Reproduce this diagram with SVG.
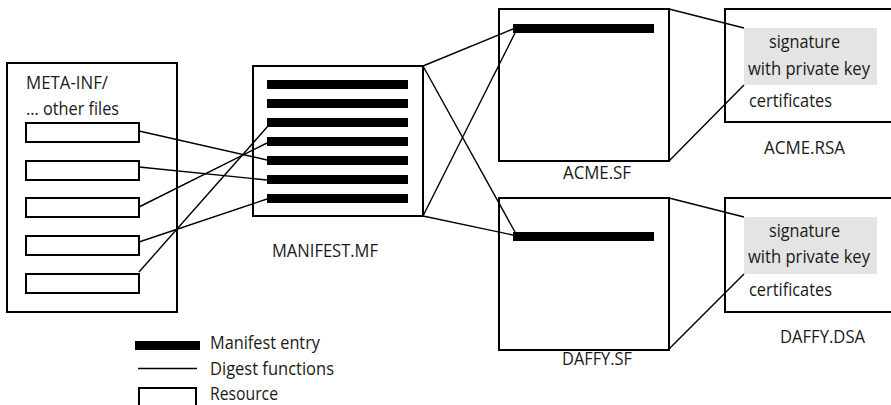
<svg xmlns="http://www.w3.org/2000/svg" width="891" height="405" viewBox="0 0 891 405">
<style>
.box{fill:#fff;stroke:#000;stroke-width:2}
.res{fill:#fff;stroke:#000;stroke-width:2}
.bar{fill:#000}
.lnk{fill:none;stroke:#000;stroke-width:1.4}
.sig{fill:#e4e4e4}
text{font-family:"Open Sans","Noto Sans","Liberation Sans",sans-serif;font-size:18px;fill:#1a1a1a}
</style>
<rect width="891" height="405" fill="#fff"/>
<g id="meta-inf">
<rect class="box" x="7" y="63" width="170" height="249"/>
<text x="26" y="89" textLength="82" lengthAdjust="spacingAndGlyphs">META-INF/</text>
<text x="26" y="115" textLength="93" lengthAdjust="spacingAndGlyphs">... other files</text>
<rect class="res" x="26" y="123" width="113" height="19"/>
<rect class="res" x="26" y="161" width="113" height="19"/>
<rect class="res" x="26" y="198" width="113" height="19"/>
<rect class="res" x="26" y="236" width="113" height="19"/>
<rect class="res" x="26" y="274" width="113" height="19"/>
</g>
<g id="manifest">
<rect class="box" x="253" y="66" width="170" height="150"/>
<rect class="bar" x="267" y="80" width="141" height="9"/>
<rect class="bar" x="267" y="99" width="141" height="9"/>
<rect class="bar" x="267" y="118" width="141" height="9"/>
<rect class="bar" x="267" y="137" width="141" height="9"/>
<rect class="bar" x="267" y="156" width="141" height="9"/>
<rect class="bar" x="267" y="175" width="141" height="9"/>
<rect class="bar" x="267" y="194" width="141" height="9"/>
<text x="272" y="257" textLength="106" lengthAdjust="spacingAndGlyphs">MANIFEST.MF</text>
</g>
<g id="acme-sf">
<rect class="box" x="499" y="9" width="170" height="152"/>
<rect class="bar" x="513" y="24" width="141" height="9"/>
<text x="563" y="179" textLength="68" lengthAdjust="spacingAndGlyphs">ACME.SF</text>
</g>
<g id="daffy-sf">
<rect class="box" x="499" y="198" width="170" height="152"/>
<rect class="bar" x="513" y="232" width="141" height="9"/>
<text x="562" y="365" textLength="70" lengthAdjust="spacingAndGlyphs">DAFFY.SF</text>
</g>
<g id="acme-rsa">
<path class="box" d="M891 9H725V122H891"/>
<rect class="sig" x="744" y="28" width="133" height="57"/>
<text x="769" y="48" textLength="71" lengthAdjust="spacingAndGlyphs">signature</text>
<text x="748" y="75" textLength="122" lengthAdjust="spacingAndGlyphs">with private key</text>
<text x="749" y="107" textLength="83" lengthAdjust="spacingAndGlyphs">certificates</text>
<text x="764" y="154" textLength="81" lengthAdjust="spacingAndGlyphs">ACME.RSA</text>
</g>
<g id="daffy-dsa">
<path class="box" d="M891 198H725V312H891"/>
<rect class="sig" x="744" y="217" width="133" height="57"/>
<text x="769" y="237" textLength="71" lengthAdjust="spacingAndGlyphs">signature</text>
<text x="748" y="263" textLength="122" lengthAdjust="spacingAndGlyphs">with private key</text>
<text x="749" y="296" textLength="83" lengthAdjust="spacingAndGlyphs">certificates</text>
<text x="780" y="343" textLength="85" lengthAdjust="spacingAndGlyphs">DAFFY.DSA</text>
</g>
<g id="connectors">
<path class="lnk" d="M139 131L267 160"/>
<path class="lnk" d="M139 167L267 180"/>
<path class="lnk" d="M139 207L267 143"/>
<path class="lnk" d="M139 242L267 199"/>
<path class="lnk" d="M139 272L268 126"/>
<path class="lnk" d="M423 66L513 29"/>
<path class="lnk" d="M423 216L515 33"/>
<path class="lnk" d="M423 66L515 232"/>
<path class="lnk" d="M423 216L513 235"/>
<path class="lnk" d="M669 9L744 28"/>
<path class="lnk" d="M669 161L744 85"/>
<path class="lnk" d="M669 198L744 217"/>
<path class="lnk" d="M669 349L744 274"/>
</g>
<g id="legend">
<rect class="bar" x="135" y="341" width="65" height="9"/>
<path class="lnk" d="M138 368.5H197"/>
<path class="box" d="M139 405V388H196V405"/>
<text x="210" y="349" textLength="110" lengthAdjust="spacingAndGlyphs">Manifest entry</text>
<text x="210" y="375" textLength="124" lengthAdjust="spacingAndGlyphs">Digest functions</text>
<text x="210" y="400" textLength="68" lengthAdjust="spacingAndGlyphs">Resource</text>
</g>
</svg>
